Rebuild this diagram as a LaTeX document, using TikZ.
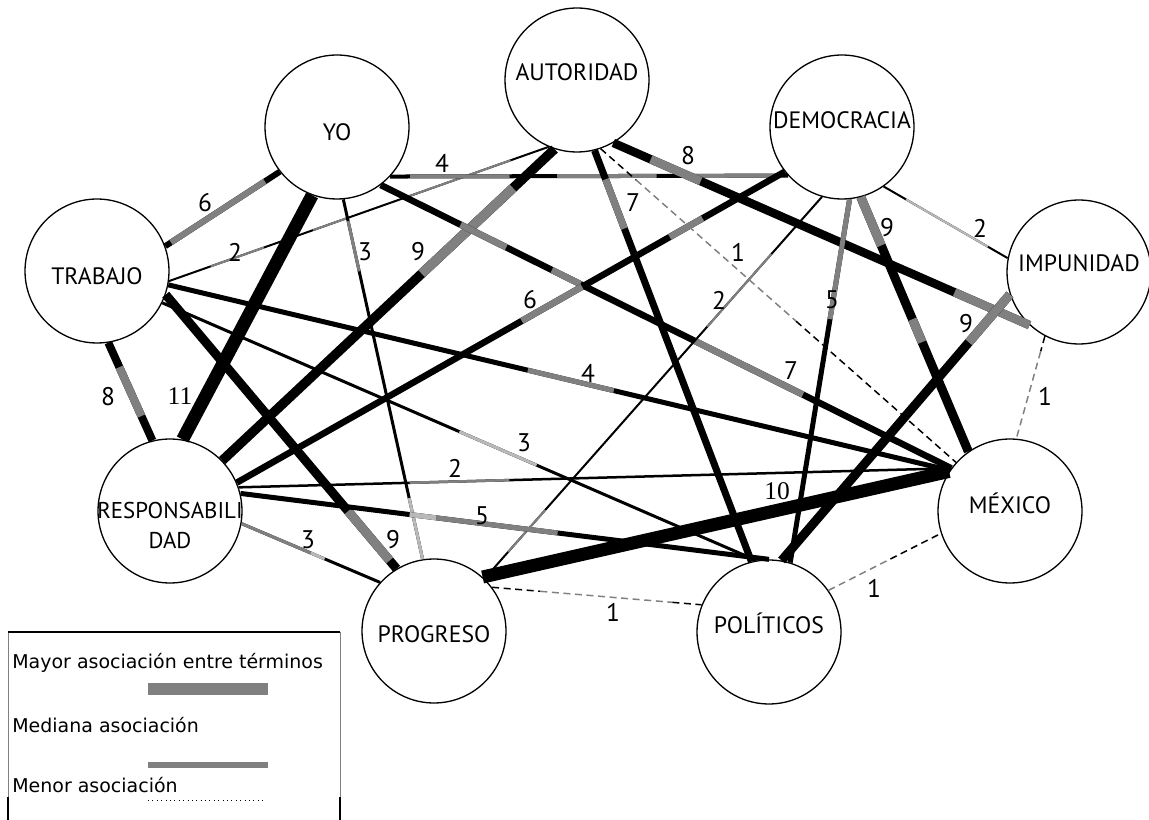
\documentclass[tikz,border=0pt]{standalone}
\usepackage{fontspec}
\setmainfont{PT Sans}
\newfontfamily\numserif{Liberation Serif}
\newfontfamily\legendfont{DejaVu Sans}
\usepackage{tikz}
\definecolor{midgray}{RGB}{128,128,128}
\definecolor{palegray}{RGB}{185,185,185}

\tikzset{
  term/.style={circle, draw, fill=white, line width=0.75pt, minimum size=2.88cm, inner sep=0pt},
  weak/.style={line width=0.85pt, dash pattern=on 4pt off 2.6pt},
  num/.style={inner sep=0pt, font=\fontsize{14.5}{16}\selectfont},
  legtext/.style={anchor=base west, inner sep=0pt, font=\legendfont\fontsize{10.8}{13}\selectfont},
}

\begin{document}
\begin{tikzpicture}[x=0.02cm, y=-0.02cm, font=\fontsize{13.5}{17}\selectfont]
  \useasboundingbox (0,0) rectangle (1149,820);

  % the nine terms
  \node[term, label={[yshift=4.5pt]center:AUTORIDAD}] (aut) at (577,80) {};
  \node[term, label={[yshift=-3pt]center:YO}] (yo) at (337,127) {};
  \node[term, label={[yshift=4pt]center:DEMOCRACIA}] (dem) at (842,127) {};
  \node[term, label={[yshift=-3pt]center:TRABAJO}] (tra) at (97,271) {};
  \node[term, label={[yshift=5pt]center:IMPUNIDAD}] (imp) at (1079,272) {};
  \node[term, label={[yshift=-8pt, align=center, font=\fontsize{13}{17}\selectfont]center:RESPONSABILI\\DAD}] (res) at (170,511) {};
  \node[term, label={[yshift=4.5pt]center:MÉXICO}] (mex) at (1010,511) {};
  \node[term, label={[yshift=-2pt]center:PROGRESO}] (pro) at (434,631) {};
  \node[term, label={[yshift=5pt]center:POLÍTICOS}] (pol) at (769,632) {};

  % links: from/to/width in px/grey stretches along the link
  \foreach \ta/\tb/\lw/\gs in {
    tra.20/yo.218/6/{0.05/0.87/midgray},
    tra.-8/aut.247/2/{0.11/0.25/midgray, 0.38/0.47/midgray, 0.63/0.9/midgray},
    yo.-43/dem.222/4/{0.05/0.30/midgray, 0.42/0.67/midgray, 0.74/0.97/midgray},
    aut.-60/imp.227/8.5/{0.09/0.21/midgray, 0.82/1/midgray},
    aut.-76/pol.104/7/{0.07/0.19/midgray},
    aut.252/res.44/9.5/{0.125/0.40/midgray},
    yo.-85/pro.99/3/{0.06/0.2/midgray, 0.83/1/palegray},
    yo.-53/mex.144/6.5/{0.14/0.22/midgray, 0.30/0.35/midgray, 0.55/0.74/midgray},
    dem.218/res.23/6.5/{0.15/0.21/midgray, 0.37/0.48/midgray},
    dem.254/pro.46/2/{0.15/0.34/midgray, 0.82/0.93/midgray},
    dem.-55/imp.169/2/{0.18/0.84/palegray},
    dem.-75/mex.125/9/{0/0.19/midgray, 0.48/0.57/midgray},
    dem.-84/pol.73/5/{0/0.33/midgray},
    imp.198/pol.80/9/{0/0.18/midgray},
    tra.-81/res.104/8/{0.25/0.75/midgray},
    tra.-11/mex.146/5/{0.46/0.57/midgray},
    tra.-26/pol.100/3/{0.50/0.63/palegray},
    tra.-19/pro.121/9/{0.79/0.97/midgray},
    res.19/mex.144/2.5/{0.24/0.38/midgray},
    res.14/pol.90/5/{0.32/0.37/palegray, 0.37/0.60/midgray},
    res.-10/pro.138/3/{0/0.5/midgray, 0.5/0.6/palegray}}{
    \draw[line width=\lw*0.57pt] (\ta) -- (\tb);
    \foreach \s/\e/\col in \gs {
      \path (\ta) -- (\tb) coordinate[pos=\s] (p) coordinate[pos=\e] (q);
      \draw[color=\col, line width=\lw*0.57pt] (p) -- (q);
    }
  }
  \draw[line width=7.4pt] (yo.250) -- (res.80);
  \draw[line width=7.4pt] (pro.48) -- (mex.147);

  % weakest links, dashed
  \foreach \ta/\tb/\s/\e in {aut.-71/mex.138/0.1/0.55, imp.242/mex.85/0.15/1,
                             pro.37/pol.158/0.23/0.86, pol.35/mex.198/0/0.55}{
    \path (\ta) -- (\tb) coordinate[pos=\s] (p) coordinate[pos=\e] (q);
    \draw[weak] (\ta) -- (p);
    \draw[weak, midgray] (p) -- (q);
    \draw[weak] (q) -- (\tb);
  }

  % weights
  \foreach \x/\y/\lbl [count=\i] in {205/203/6, 235/252/2, 442/163/4, 688/156/8,
      633/203/7, 738/252/1, 418/252/9, 180/396/{\numserif 11}, 365/252/3,
      791/371/7, 530/300/6, 719/300/2, 980/228/2, 887/228/9, 832/300/5,
      966/324/9, 1045/396/1, 108/397/8, 588/373/4, 524/443/3, 393/540/9,
      455/468/2, 482/516/5, 308/540/3, 777/491/{\numserif 10}, 613/612/1, 874/588/1}
    \node[num] (w\i) at (\x,\y) {\lbl};

  % key
  \draw[midgray, line width=0.4pt] (8,797) -- (8,632);
  \draw[midgray, line width=0.4pt] (340,797) -- (340,632);
  \draw[line width=0.8pt] (8,632) -- (340,632);
  \draw[line width=1.2pt] (8,797) -- (8,820);
  \draw[line width=1.2pt] (340,797) -- (340,820);
  \node[legtext] (mayor) at (12,668) {Mayor asociación entre términos};
  \fill[midgray] (148,683) rectangle (268,695);
  \node[legtext] (mediana) at (12,732) {Mediana asociación};
  \fill[midgray] (148,762) rectangle (268,768);
  \node[legtext] (menor) at (12,792) {Menor asociación};
  \draw[dotted, line width=0.5pt] (148,800) -- (266,800);
\end{tikzpicture}
\end{document}
